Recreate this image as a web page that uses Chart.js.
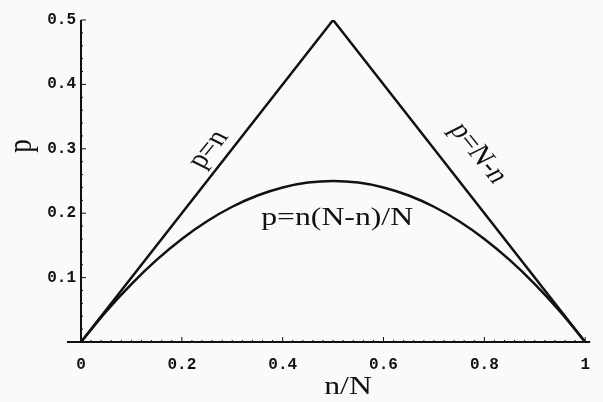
<!DOCTYPE html>
<html>
<head>
<meta charset="utf-8">
<script src="https://cdn.jsdelivr.net/npm/chart.js@4/dist/chart.umd.min.js"></script>
<style>
  html, body { margin: 0; padding: 0; background: #fafaf8; }
  #wrap { width: 603px; height: 402px; }
</style>
</head>
<body>
<div id="wrap"><canvas id="pn"></canvas></div>
<script>
// p = n : rises to the apex, p = N - n : falls back to zero
var lineX = [0, 0.5, 1];
var lineP = [0, 0.5, 0];

// p = n(N-n)/N sampled along n/N
var curveX = [0, 0.05, 0.1, 0.15, 0.2, 0.25, 0.3, 0.35, 0.4, 0.45, 0.5,
              0.55, 0.6, 0.65, 0.7, 0.75, 0.8, 0.85, 0.9, 0.95, 1];
var curveP = [0, 0.0475, 0.09, 0.1275, 0.16, 0.1875, 0.21, 0.2275, 0.24, 0.2475, 0.25,
              0.2475, 0.24, 0.2275, 0.21, 0.1875, 0.16, 0.1275, 0.09, 0.0475, 0];

var xTicks = [0, 0.2, 0.4, 0.6, 0.8, 1];
var yTicks = [0.1, 0.2, 0.3, 0.4, 0.5];

// curve labels: text, position in data units, rotation in degrees (before the wide stretch)
var notes = [
  { text: 'p=n', x: 0.253, y: 0.299, rot: -57.5, size: 25 },
  { text: 'p=N-n', x: 0.788, y: 0.293, rot: 57.5, size: 25 },
  { text: 'p=n(N-n)/N', x: 0.508, y: 0.192, rot: 0, size: 25 }
];

// serif text in this figure is set wide
var wide = 1.27;

function pairs(xs, ys) {
  return xs.map(function (x, i) { return { x: x, y: ys[i] }; });
}

var ink = '#111';
var serif = '"Liberation Serif", "Times New Roman", serif';

function wideText(ctx, text, px, py, rotDeg, size) {
  ctx.save();
  ctx.translate(px, py);
  ctx.scale(wide, 1);
  ctx.rotate(rotDeg * Math.PI / 180);
  ctx.font = size + 'px ' + serif;
  ctx.fillText(text, 0, 0);
  ctx.restore();
}

var axesPlugin = {
  id: 'axesPlugin',
  afterDraw: function (c) {
    var ctx = c.ctx, xs = c.scales.x, ys = c.scales.y;
    var x0 = xs.getPixelForValue(0), y0 = ys.getPixelForValue(0);
    ctx.save();
    ctx.strokeStyle = ink;
    ctx.lineCap = 'butt';

    // axis lines, the horizontal one runs a little past the origin
    ctx.lineWidth = 2;
    ctx.beginPath();
    ctx.moveTo(x0 - 14, y0);
    ctx.lineTo(xs.getPixelForValue(1) + 5, y0);
    ctx.moveTo(x0, y0);
    ctx.lineTo(x0, ys.getPixelForValue(0.5));
    ctx.stroke();

    // inward ticks, minor ones in between
    ctx.lineWidth = 1;
    ctx.beginPath();
    for (var i = 1; i <= 50; i++) {
      var px = xs.getPixelForValue(i / 50);
      var len = (i % 10 === 0) ? 5 : 2;
      ctx.moveTo(px, y0); ctx.lineTo(px, y0 - len);
    }
    for (var j = 1; j <= 25; j++) {
      var py = ys.getPixelForValue(j / 50);
      var leny = (j % 5 === 0) ? 5 : 2;
      ctx.moveTo(x0, py); ctx.lineTo(x0 + leny, py);
    }
    ctx.stroke();

    // axis titles
    ctx.fillStyle = ink;
    ctx.textAlign = 'center';
    ctx.textBaseline = 'middle';
    wideText(ctx, 'n/N', 348, 387, 0, 25);
    wideText(ctx, 'p', 22, 146, -90, 27);

    // labels on the curves
    notes.forEach(function (n) {
      wideText(ctx, n.text, xs.getPixelForValue(n.x), ys.getPixelForValue(n.y), n.rot, n.size);
    });
    ctx.restore();
  }
};

var tickFont = { family: '"Liberation Mono", "Courier New", monospace', size: 16, weight: 'bold' };

new Chart(document.getElementById('pn').getContext('2d'), {
  type: 'scatter',
  data: {
    datasets: [
      {
        data: pairs(lineX, lineP),
        showLine: true,
        borderColor: ink,
        borderWidth: 2.5,
        pointRadius: 0,
        tension: 0
      },
      {
        data: pairs(curveX, curveP),
        showLine: true,
        borderColor: ink,
        borderWidth: 2.5,
        pointRadius: 0,
        cubicInterpolationMode: 'monotone'
      }
    ]
  },
  options: {
    responsive: true,
    maintainAspectRatio: false,
    animation: false,
    layout: { padding: { top: 20, right: 9, left: 0, bottom: 0 } },
    plugins: {
      legend: { display: false },
      tooltip: { enabled: false }
    },
    scales: {
      x: {
        type: 'linear',
        min: 0,
        max: 1,
        afterBuildTicks: function (s) { s.ticks = xTicks.map(function (v) { return { value: v }; }); },
        afterFit: function (s) { s.height = 60; },
        grid: { display: false, drawTicks: false },
        border: { display: false },
        ticks: {
          color: ink,
          font: tickFont,
          padding: 13,
          maxRotation: 0,
          callback: function (v) { return (v === 0 || v === 1) ? String(v) : v.toFixed(1); }
        }
      },
      y: {
        type: 'linear',
        min: 0,
        max: 0.5,
        afterBuildTicks: function (s) { s.ticks = yTicks.map(function (v) { return { value: v }; }); },
        afterFit: function (s) { s.width = 81; },
        grid: { display: false, drawTicks: false },
        border: { display: false },
        ticks: {
          color: ink,
          font: tickFont,
          padding: 5,
          callback: function (v) { return v.toFixed(1); }
        }
      }
    }
  },
  plugins: [axesPlugin]
});
</script>
</body>
</html>
